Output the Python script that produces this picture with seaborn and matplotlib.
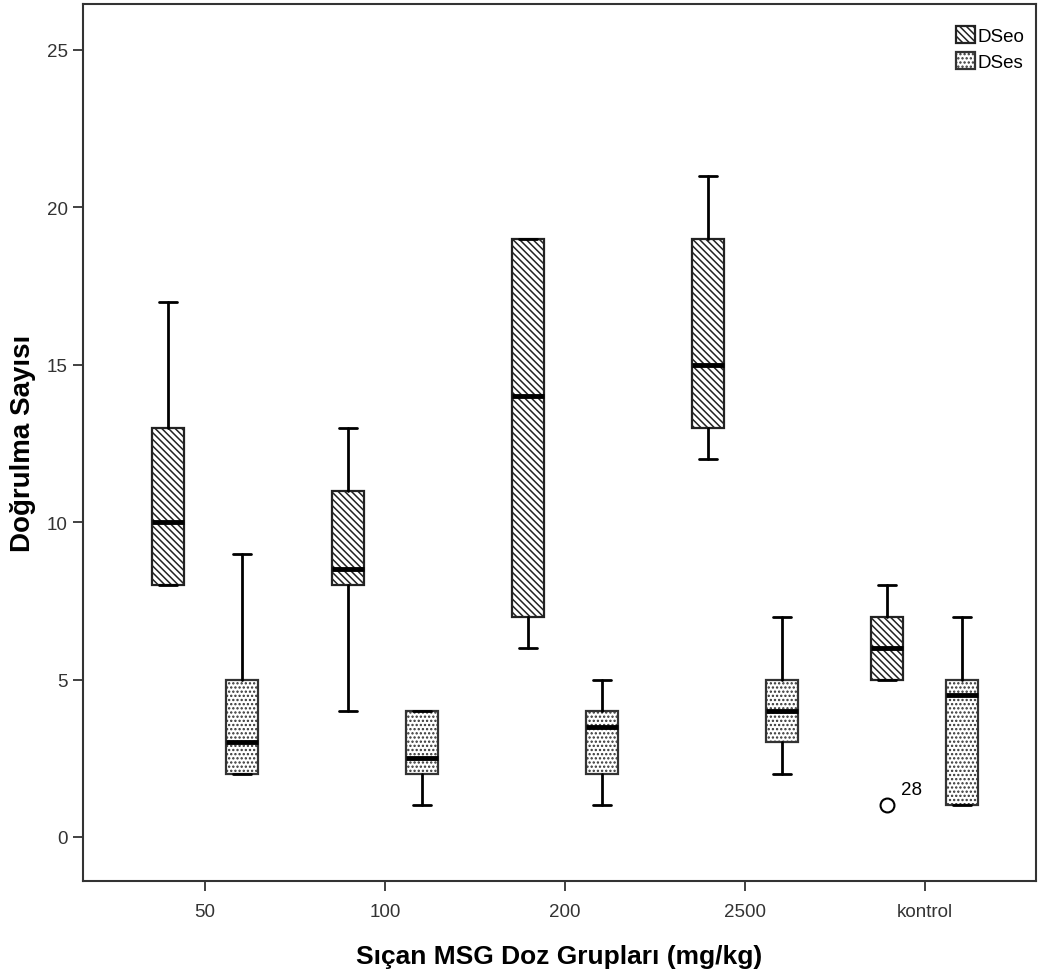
import numpy as np
import seaborn as sns
import matplotlib.pyplot as plt
from matplotlib.patches import Patch

# five-number summaries
groups = ['50', '100', '200', '2500', 'kontrol']
dseo_min = [8, 4, 6, 12, 5]
dseo_q1 = [8, 8, 7, 13, 5]
dseo_med = [10, 8.5, 14, 15, 6]
dseo_q3 = [13, 11, 19, 19, 7]
dseo_max = [17, 13, 19, 21, 8]
dseo_fliers = [[], [], [], [], [1]]

dses_min = [2, 1, 1, 2, 1]
dses_q1 = [2, 2, 2, 3, 1]
dses_med = [3, 2.5, 3.5, 4, 4.5]
dses_q3 = [5, 4, 4, 5, 5]
dses_max = [9, 4, 5, 7, 7]
dses_fliers = [[], [], [], [], []]

outlier_label = '28'

sns.set_style("ticks")
plt.rcParams['font.family'] = ['Liberation Sans', 'DejaVu Sans']
plt.rcParams['hatch.linewidth'] = 1.1
plt.rcParams['text.color'] = 'black'
plt.rcParams['axes.labelcolor'] = 'black'

fig = plt.figure(figsize=(10.46, 9.78), dpi=100)
ax = fig.add_axes([0.0793, 0.0982, 0.9107, 0.8967])


def make_stats(mins, q1s, meds, q3s, maxs, fliers):
    out = []
    for a, b, c, d, e, f in zip(mins, q1s, meds, q3s, maxs, fliers):
        out.append(dict(whislo=a, q1=b, med=c, q3=d, whishi=e, fliers=f))
    return out


x = np.arange(len(groups))
off = 0.206
w = 0.178
hatch_eo = '\\' * 5
hatch_es = '.' * 4
common = dict(widths=w, patch_artist=True, showfliers=True,
              medianprops=dict(color='black', linewidth=3.5),
              whiskerprops=dict(color='black', linewidth=2),
              capprops=dict(color='black', linewidth=2),
              flierprops=dict(marker='o', markerfacecolor='white',
                              markeredgecolor='black', markersize=10,
                              markeredgewidth=1.5),
              capwidths=0.1)

b1 = ax.bxp(make_stats(dseo_min, dseo_q1, dseo_med, dseo_q3, dseo_max, dseo_fliers),
            positions=x - off, **common)
b2 = ax.bxp(make_stats(dses_min, dses_q1, dses_med, dses_q3, dses_max, dses_fliers),
            positions=x + off, **common)

for p in b1['boxes']:
    p.set_facecolor('white')
    p.set_edgecolor('#222222')
    p.set_linewidth(1.6)
    p.set_hatch(hatch_eo)
for p in b2['boxes']:
    p.set_facecolor('white')
    p.set_edgecolor('#333333')
    p.set_linewidth(1.6)
    p.set_hatch(hatch_es)

ax.annotate(outlier_label, xy=(x[4] - off, dseo_fliers[4][0]), xytext=(10, 8),
            textcoords='offset points', fontsize=13.5)

ax.set_xlim(-0.678, 4.617)
ax.set_ylim(-1.4, 26.46)
ax.set_xticks(x)
ax.set_xticklabels(groups)
ax.set_yticks([0, 5, 10, 15, 20, 25])
ax.tick_params(axis='both', labelsize=13.5, colors='#333333', length=7, width=1.3)
ax.tick_params(axis='x', pad=9)
ax.tick_params(axis='y', pad=4)
for s in ax.spines.values():
    s.set_linewidth(1.5)
    s.set_color('#333333')

ax.set_xlabel('Sıçan MSG Doz Grupları (mg/kg)', fontsize=19, fontweight='bold',
              labelpad=17)
ax.set_ylabel('Doğrulma Sayısı', fontsize=20, fontweight='bold',
              family=['Liberation Sans Narrow', 'Liberation Sans', 'DejaVu Sans'],
              labelpad=8)

handles = [Patch(facecolor='white', edgecolor='#222222', linewidth=1.6,
                 hatch=hatch_eo, label='DSeo'),
           Patch(facecolor='white', edgecolor='#333333', linewidth=1.6,
                 hatch=hatch_es, label='DSes')]
ax.legend(handles=handles, loc='upper right', bbox_to_anchor=(1.0, 0.988),
          frameon=False, fontsize=13.5,
          handlelength=1.0, handleheight=1.0, handletextpad=0.15,
          labelspacing=0.4, borderaxespad=0.2)

fig.savefig('out.png', dpi=100)
